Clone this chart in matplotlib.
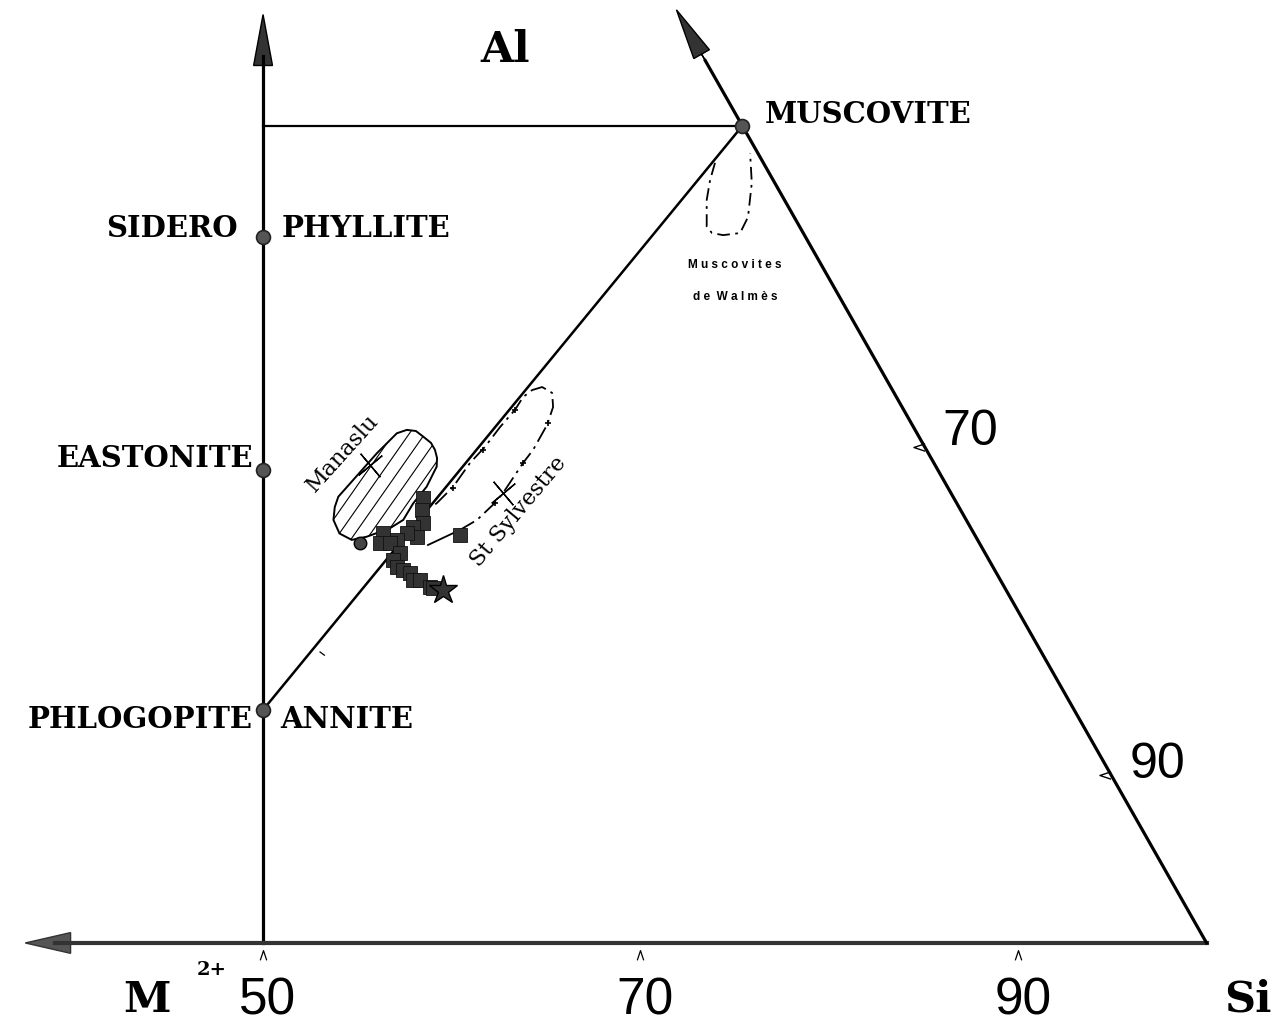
import numpy as np
import matplotlib.pyplot as plt
from matplotlib.patches import Polygon
from matplotlib.path import Path

# diagram coordinates: x = Si (%), y = Al (same scale as x)
# end members
end_si = [50.0, 50.0, 50.0, 75.4]
end_al = [12.35, 25.05, 37.4, 43.3]

# tick values
bottom_ticks = [50, 70, 90]
right_tick_labels = ['70', '90']
right_tick_al = [26.3, 8.9]

# Manaslu field outline (Si, Al)
manaslu_si = [54.70, 54.05, 53.73, 53.80, 53.99, 56.03, 57.09, 57.62, 58.10, 58.49, 58.90,
              59.11, 59.22, 59.20, 58.67, 57.96, 57.43, 56.73, 55.50]
manaslu_al = [21.36, 21.70, 22.42, 23.10, 23.65, 25.95, 27.01, 27.19, 27.13, 26.83, 26.50,
              26.13, 25.70, 25.24, 24.18, 23.30, 22.42, 21.98, 21.53]
manaslu_dot = (55.14, 21.20)
manaslu_star = (55.67, 25.33)

# biotite analyses (squares)
sq_si = [58.48, 58.43, 58.48, 57.95, 58.16, 57.63, 57.10, 56.36, 56.20, 56.73, 57.26,
         56.89, 57.10, 57.42, 57.79, 57.95, 58.32, 58.85, 59.01, 60.44]
sq_al = [23.58, 22.95, 22.26, 22.05, 21.52, 21.73, 21.36, 21.73, 21.20, 21.20, 20.67,
         20.30, 19.93, 19.77, 19.61, 19.24, 19.24, 18.87, 18.81, 21.62]
big_star = (59.54, 18.71)

# St Sylvestre field
sylv_si = [60.44, 61.34, 62.29, 62.72, 63.78, 64.31, 65.05, 65.37, 65.32, 64.79, 64.26,
           63.78, 63.35, 62.56, 61.76, 60.97, 60.07, 59.22, 58.96]
sylv_al = [21.89, 22.42, 23.32, 23.85, 25.44, 26.13, 27.45, 28.40, 29.15, 29.46, 29.30,
           28.93, 28.25, 27.34, 26.29, 25.44, 24.17, 23.32, 23.11]
sylv_link_si = [58.74, 60.44]
sylv_link_al = [21.09, 21.89]
sylv_plus_si = [65.10, 63.78, 62.29, 63.35, 61.66, 60.07]
sylv_plus_al = [27.56, 25.44, 23.32, 28.25, 26.13, 24.11]
sylv_star = (62.72, 23.85)

# Muscovites de Walmes field
walm_si = [73.95, 73.69, 73.51, 73.51, 73.79, 74.38, 75.28, 75.70, 75.90, 75.81]
walm_al = [41.34, 40.43, 39.37, 37.96, 37.62, 37.51, 37.62, 38.47, 40.28, 41.86]

fig = plt.figure(figsize=(12.83, 10.26), dpi=100)
ax = fig.add_axes([0, 0, 1, 1])
ax.set_xlim(36.06, 104.05)
ax.set_ylim(-4.40, 49.97)
ax.axis('off')

k = 'black'
mus = (end_si[3], end_al[3])

# main axes with arrows
ax.plot([50, 50], [0, 47], color=k, lw=2.3)
ax.arrow(50, 45, 0, 4.2, head_width=1.0, head_length=2.7, length_includes_head=True,
         fc='#333333', ec=k, lw=1)
ax.plot([100, 39], [0, 0], color='#333333', lw=3)
ax.arrow(40, 0, -2.6, 0, head_width=1.1, head_length=2.4, length_includes_head=True,
         fc='#555555', ec='#333333', lw=1)
# right edge Si(100) -> Muscovite -> arrow
dx, dy = mus[0] - 100, mus[1] - 0
ax.plot([100, mus[0]], [0, mus[1]], color=k, lw=2.3)
f = 1.142
tip = (100 + dx * f, dy * f)
ax.plot([mus[0], 100 + dx * 1.08], [mus[1], dy * 1.08], color=k, lw=2.3)
ax.arrow(100 + dx * 1.07, dy * 1.07, tip[0] - (100 + dx * 1.07), tip[1] - dy * 1.07,
         head_width=0.95, head_length=2.7, length_includes_head=True, fc='#333333', ec=k, lw=1)
# horizontal Al line and annite-muscovite join
ax.plot([50, mus[0]], [mus[1], mus[1]], color=k, lw=1.6)
ax.plot([end_si[0], mus[0]], [end_al[0], mus[1]], color=k, lw=1.8)
ax.plot([53.02, 53.25], [15.42, 15.25], color=k, lw=0.9)

# end-member dots
ax.plot(end_si, end_al, 'o', ms=10, mfc='#555555', mec='#222222', mew=1.2, zorder=5)

# ticks (open carets)
caret_up = Path([(-1, -1.5), (0, 1.5), (1, -1.5)], [Path.MOVETO, Path.LINETO, Path.LINETO])
caret_left = Path([(1.5, 1), (-1.5, 0), (1.5, -1)], [Path.MOVETO, Path.LINETO, Path.LINETO])
ax.plot(bottom_ticks, [-0.65] * 3, ls='none', marker=caret_up, ms=7, mfc='none',
        mec=k, mew=0.9)
for t, lab in zip(bottom_ticks, ['50', '70', '90']):
    ax.text(t + 0.26, -3.05, lab, fontsize=37, family='Liberation Sans',
            ha='center', va='center')
r_si = [100 + dx * a / dy for a in right_tick_al]
ax.plot([s - 0.3 for s in r_si], right_tick_al, ls='none', marker=caret_left, ms=8,
        mfc='none', mec=k, mew=1.0)
ax.text(87.47, 27.08, right_tick_labels[0], fontsize=36, family='Liberation Sans',
        ha='center', va='center')
ax.text(97.38, 9.43, right_tick_labels[1], fontsize=36, family='Liberation Sans',
        ha='center', va='center')

# Manaslu field with hatching
poly = Polygon(np.column_stack([manaslu_si, manaslu_al]), closed=True, fc='none',
               ec=k, lw=1.4, zorder=3)
ax.add_patch(poly)
ang = np.deg2rad(55)
for off in np.arange(-8, 8, 0.68):
    cx = 56.5 + off * np.sin(ang)
    cy = 24.3 - off * np.cos(ang)
    ln, = ax.plot([cx - 6 * np.cos(ang), cx + 6 * np.cos(ang)],
                  [cy - 6 * np.sin(ang), cy + 6 * np.sin(ang)], color=k, lw=0.8)
    ln.set_clip_path(poly)
ax.plot(*manaslu_dot, 'o', ms=9, mfc='#444444', mec=k, zorder=5)
ax.plot(*manaslu_star, marker=(4, 2, 40), ms=22, mew=1.0, color=k, zorder=5)

# St Sylvestre field
ax.plot(sylv_link_si, sylv_link_al, color=k, lw=1.3)
ax.plot(sylv_si, sylv_al, color=k, lw=1.3, ls=(0, (9, 3, 1.5, 3)))
ax.plot(sylv_plus_si, sylv_plus_al, '+', ms=5, mew=1.2, color=k)
ax.plot(*sylv_star, marker=(4, 2, 40), ms=22, mew=1.0, color=k, zorder=5)

# biotite squares and star
ax.plot(sq_si, sq_al, 's', ms=10, mfc='#333333', mec='#111111', mew=0.6, zorder=4)
ax.plot(*big_star, '*', ms=21, mfc='#333333', mec=k, zorder=4)

# Walmes muscovite field
ax.plot(walm_si, walm_al, color=k, lw=1.3, ls=(0, (7, 3, 1.5, 3)))

# labels
serif = dict(family='DejaVu Serif', fontweight='bold', va='center')
ax.text(62.82, 47.3, 'Al', fontsize=31, ha='center', **serif)
ax.text(76.6, 43.9, 'MUSCOVITE', fontsize=21, ha='left', **serif)
ax.text(48.68, 37.84, 'SIDERO', fontsize=21, ha='right', **serif)
ax.text(51.0, 37.84, 'PHYLLITE', fontsize=21, ha='left', **serif)
ax.text(49.47, 25.65, 'EASTONITE', fontsize=21, ha='right', **serif)
ax.text(49.47, 11.82, 'PHLOGOPITE', fontsize=21, ha='right', **serif)
ax.text(50.9, 11.82, 'ANNITE', fontsize=21, ha='left', **serif)
ax.text(43.85, -3.0, 'M', fontsize=31, ha='center', **serif)
ax.text(47.3, -1.45, '2+', fontsize=14, ha='center', **serif)
ax.text(102.2, -3.0, 'Si', fontsize=31, ha='center', **serif)

ax.text(75.01, 35.93, 'M u s c o v i t e s', fontsize=8.5, family='Liberation Sans',
        fontweight='bold', ha='center', va='center')
ax.text(75.01, 34.23, 'd e  W a l m è s', fontsize=8.5, family='Liberation Sans',
        fontweight='bold', ha='center', va='center')
ax.text(54.24, 25.97, 'Manaslu', fontsize=16, family='DejaVu Serif', rotation=48,
        ha='center', va='center')
ax.text(63.55, 22.85, 'St Sylvestre', fontsize=16, family='DejaVu Serif', rotation=50,
        ha='center', va='center')

fig.savefig('out.png', dpi=100)
